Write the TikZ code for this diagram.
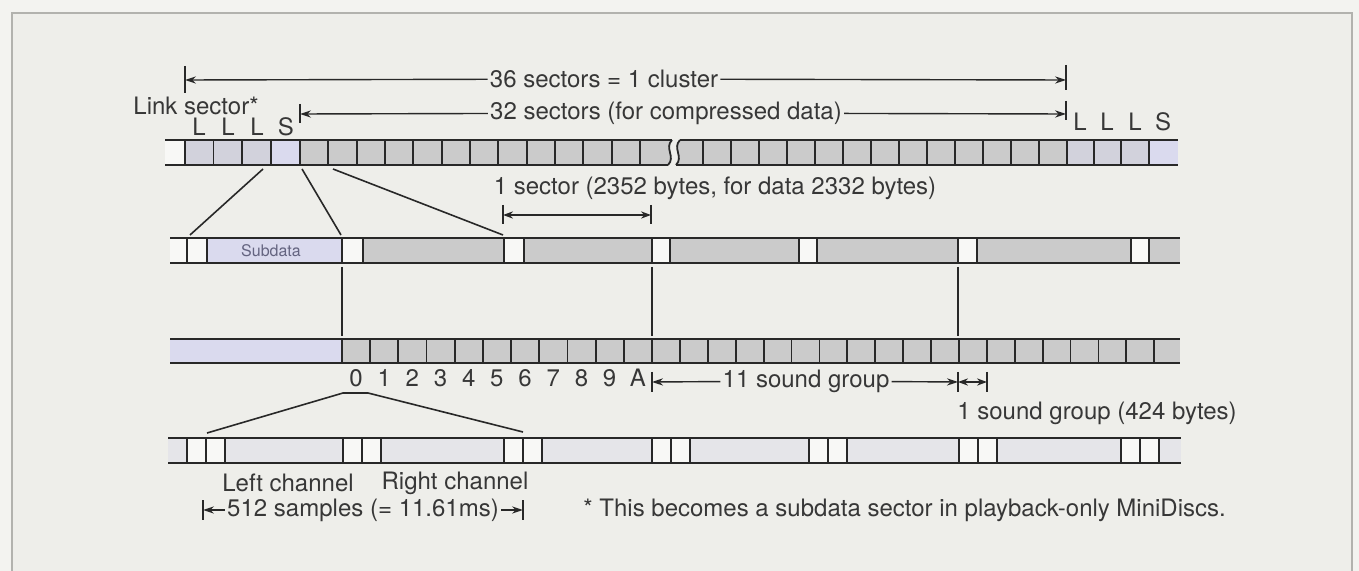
\documentclass[tikz,border=0pt]{standalone}
\usepackage{fontspec}
\setmainfont{TeX Gyre Heros}
\usetikzlibrary{arrows.meta,positioning,calc}
\definecolor{paper}{RGB}{243,243,240}
\definecolor{panel}{RGB}{238,238,234}
\definecolor{frameg}{RGB}{178,178,174}
\definecolor{ink}{RGB}{40,40,40}
\definecolor{textink}{RGB}{55,55,55}
\definecolor{subtext}{RGB}{100,100,128}
\definecolor{linkgray}{RGB}{210,210,220}
\definecolor{sublav}{RGB}{218,218,238}
\definecolor{datagray}{RGB}{203,203,203}
\definecolor{palegray}{RGB}{229,229,233}
\definecolor{blank}{RGB}{248,248,246}

\begin{document}
\begin{tikzpicture}[x=0.5pt, y=-0.5pt,
    rail/.style={draw=ink, line width=0.9pt},
    txt/.style={font=\fontsize{12}{14}\selectfont, text=textink, inner sep=1pt},
    small/.style={font=\fontsize{8}{9}\selectfont, text=subtext, inner sep=0pt},
    tick/.style={draw=ink, line width=0.8pt},
    dim/.style={draw=ink, line width=0.7pt, -{Stealth[length=5.5pt,width=3.6pt]}},
    dimboth/.style={draw=ink, line width=0.7pt, {Stealth[length=5pt,width=3.6pt]}-{Stealth[length=5pt,width=3.6pt]}},
    link/.style={draw=ink, line width=0.8pt}
]
\useasboundingbox (0,0) rectangle (1359,571);
\fill[paper] (0,0) rectangle (1359,571);
\filldraw[fill=panel, draw=frameg, line width=1pt] (12,13) rectangle (1352,600);

% cluster track
\fill[blank] (165,140) rectangle (185,165);
\foreach \x in {185,213.5,242}
  \fill[linkgray] (\x,140) rectangle ++(29,25);
\fill[sublav] (271,140) rectangle (300,165);
\fill[datagray] (300,140) -- (672,140) .. controls (664,148) and (676,157) .. (668,165) -- (300,165) -- cycle;
\fill[datagray] (680,140) .. controls (672,148) and (684,157) .. (676,165) -- (1067,165) -- (1067,140) -- cycle;
\foreach \x in {1067,1094,1121}
  \fill[linkgray] (\x,140) rectangle ++(28,25);
\fill[sublav] (1149,140) rectangle (1178,165);
\draw[rail] (165,140) -- (672,140) (165,165) -- (668,165) (680,140) -- (1178,140) (676,165) -- (1178,165);
\draw[rail] (672,140) .. controls (664,148) and (676,157) .. (668,165);
\draw[rail] (680,140) .. controls (672,148) and (684,157) .. (676,165);
\foreach \x in {185,213.5,242,271,1094,1121,1149}
  \draw[rail] (\x,140) -- ++(0,25);
\foreach \i in {0,...,12}
  \draw[rail] (300+\i*28.33,140) -- ++(0,25);
\foreach \i in {0,...,13}
  \draw[rail] (703+\i*28,140) -- ++(0,25);

\node[txt] (link) at (196,106) {Link sector*};
\foreach \x/\t [count=\k] in {199/L,228/L,257/L,286/S}
  \node[txt] (la\k) at (\x,127) {\t};
\foreach \x/\t [count=\k] in {1080/L,1107/L,1135/L,1163/S}
  \node[txt] (lb\k) at (\x,122) {\t};

\node[txt] (cluster) at (604,79) {36 sectors = 1 cluster};
\coordinate (cl) at (185,80);
\coordinate (cr) at (1066,80);
\draw[tick] ($(cl)+(0,-14)$) -- ($(cl)+(0,13)$) ($(cr)+(0,-15)$) -- ($(cr)+(0,10)$);
\draw[dim] (cluster) -- (cl);
\draw[dim] (cluster) -- (cr);

\node[txt] (comp) at (666,113) {32 sectors (for compressed data)};
\coordinate (pl) at (300,114);
\coordinate (pr) at (1066,114);
\draw[tick] ($(pl)+(0,-10)$) -- ($(pl)+(0,9)$) ($(pr)+(0,-13)$) -- ($(pr)+(0,6)$);
\draw[dim] (comp) -- (pl);
\draw[dim] (comp) -- (pr);

% sector track
\fill[blank] (170,238) rectangle (207,263);
\fill[sublav] (207,238) rectangle (342,263);
\foreach \a/\b in {342/363,504/524,652/670,799/817,958/977,1131/1149}
  \fill[blank] (\a,238) rectangle (\b,263);
\foreach \a/\b in {363/504,524/652,670/799,817/958,977/1131,1149/1180}
  \fill[datagray] (\a,238) rectangle (\b,263);
\draw[rail] (170,238) -- (1180,238) (170,263) -- (1180,263);
\foreach \x in {187,207,342,363,504,524,652,670,799,817,958,977,1131,1149}
  \draw[rail] (\x,238) -- ++(0,25);
\node[small] (subdata) at (271,251) {Subdata};

\foreach \a/\b [count=\k] in {263/190,302/341,333/503} {
  \coordinate (ua\k) at (\a,169);
  \coordinate (ub\k) at (\b,235);
  \draw[link] (ua\k) -- (ub\k);
}

\node[txt] (sector) at (715,188) {1 sector (2352 bytes, for data 2332 bytes)};
\coordinate (sl) at (503,215);
\coordinate (sr) at (651,215);
\draw[tick] ($(sl)+(0,-10)$) -- ($(sl)+(0,9)$) ($(sr)+(0,-10)$) -- ($(sr)+(0,9)$);
\draw[dimboth] (sl) -- (sr);

\foreach \x [count=\k] in {342,652,958} {
  \coordinate (va\k) at (\x,267);
  \coordinate (vb\k) at (\x,336);
  \draw[link] (va\k) -- (vb\k);
}

% sound group track
\fill[sublav] (170,339) rectangle (342,363);
\fill[datagray] (342,339) rectangle (1180,363);
\draw[rail] (170,339) -- (1180,339) (170,363) -- (1180,363);
\foreach \i in {0,...,11}
  \draw[rail] (342+\i*28.18,339) -- ++(0,24);
\foreach \i in {1,...,18}
  \draw[rail] (652+\i*27.9,339) -- ++(0,24);
\foreach \t [count=\k from 0] in {0,1,2,3,4,5,6,7,8,9,A}
  \node[txt] (g\k) at (356+\k*28.18,378) {\t};

\node[txt] (eleven) at (806,381) {11 sound group};
\coordinate (el) at (652,382);
\coordinate (er) at (958,382);
\coordinate (on) at (987,382);
\draw[tick] ($(el)+(0,-10)$) -- ($(el)+(0,10)$) ($(er)+(0,-10)$) -- ($(er)+(0,10)$) ($(on)+(0,-10)$) -- ($(on)+(0,10)$);
\draw[dim] (eleven) -- (el);
\draw[dim] (eleven) -- (er);
\draw[dimboth] (er) -- (on);
\node[txt] (one) at (1097,413) {1 sound group (424 bytes)};

\coordinate (r1) at (207,433);
\coordinate (r2) at (343,393);
\coordinate (r3) at (368,393);
\coordinate (r4) at (523,432);
\draw[link] (r1) -- (r2) -- (r3) -- (r4);

% channel track
\fill[palegray] (168,438) rectangle (1181,463);
\foreach \s in {187,343,504,652,809,959,1121}
  \fill[blank] (\s,438) rectangle ++(38,25);
\draw[rail] (168,438) -- (1181,438) (168,463) -- (1181,463);
\foreach \s in {187,343,504,652,809,959,1121}
  \foreach \d in {0,19,38}
    \draw[rail] (\s+\d,438) -- ++(0,25);

\node[txt] (left) at (288,483) {Left channel};
\node[txt] (right) at (455,483) {Right channel};

\node[txt] (samples) at (363,510) {512 samples (= 11.61ms)};
\coordinate (ml) at (203,510);
\coordinate (mr) at (523,510);
\draw[tick] ($(ml)+(0,-10)$) -- ($(ml)+(0,10)$) ($(mr)+(0,-10)$) -- ($(mr)+(0,10)$);
\draw[dim] (samples) -- (ml);
\draw[dim] (samples) -- (mr);

\node[txt, anchor=west] (note) at (581,510) {* This becomes a subdata sector in playback-only MiniDiscs.};
\end{tikzpicture}
\end{document}
